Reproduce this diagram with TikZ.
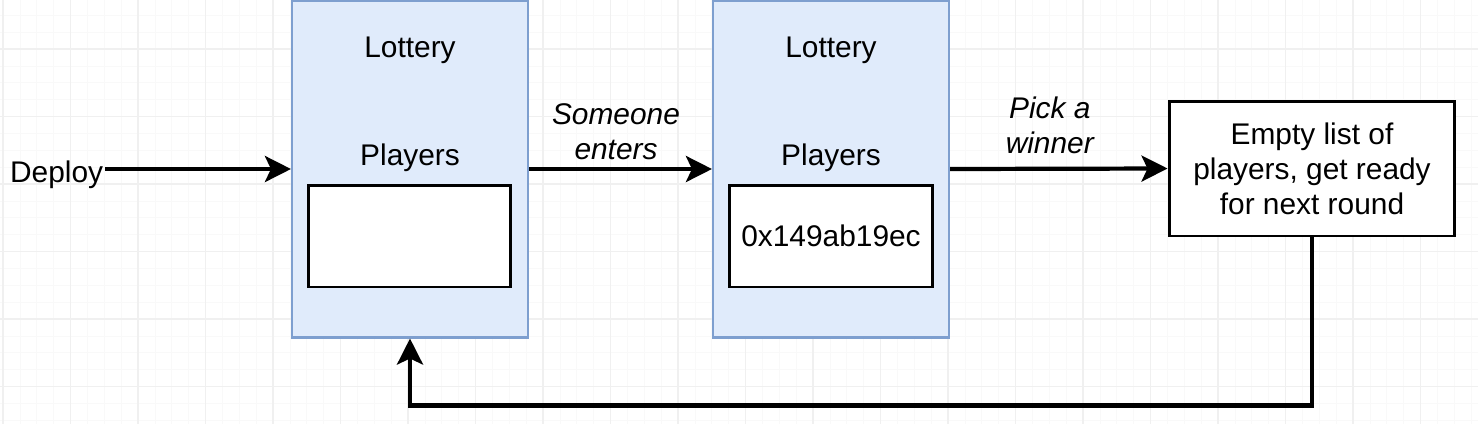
\documentclass[tikz,border=0pt]{standalone}
\usepackage{fontspec}
\setmainfont{Liberation Sans}
\usetikzlibrary{arrows.meta,positioning}
\definecolor{lotfill}{HTML}{E0EBFB}
\definecolor{lotline}{HTML}{7E9FCF}
\definecolor{gridmajor}{HTML}{F0F0F0}
\definecolor{gridminor}{HTML}{F9F9F9}
\tikzset{
  lottery/.style={draw=lotline,fill=lotfill,line width=1.2pt,minimum width=4.72cm,minimum height=6.74cm},
  playerlist/.style={draw,fill=white,line width=1.7pt,minimum width=4.06cm,minimum height=2.04cm},
  resetbox/.style={draw,fill=white,line width=1.7pt,minimum width=5.72cm,minimum height=2.7cm,align=center,inner sep=0pt},
  flow/.style={line width=2.4pt,-{Stealth[length=0.52cm,width=0.52cm,inset=0.12cm]}},
  label/.style={font=\fontsize{17pt}{20pt}\selectfont\itshape,align=center,inner sep=0pt}
}

\begin{document}
\begin{tikzpicture}[x=0.02cm,y=-0.02cm,font=\fontsize{17pt}{20pt}\selectfont]
\useasboundingbox (0,0) rectangle (1478,424);
\fill[white] (0,0) rectangle (1478,424);
\foreach \i in {0,...,88} \draw[gridminor,line width=0.4pt] ({3+16.875*\i},0) -- ({3+16.875*\i},424);
\foreach \j in {0,...,26} \draw[gridminor,line width=0.4pt] (0,{-18.5+16.875*\j}) -- (1478,{-18.5+16.875*\j});
\foreach \i in {0,...,22} \draw[gridmajor,line width=0.6pt] ({3+67.5*\i},0) -- ({3+67.5*\i},424);
\foreach \j in {0,...,7} \draw[gridmajor,line width=0.6pt] (0,{-18.5+67.5*\j}) -- (1478,{-18.5+67.5*\j});

\node[lottery] (lot1) at (410,169) {};
\node[lottery] (lot2) at (831,169) {};
\node[anchor=base] (title1) at (410,57) {Lottery};
\node[anchor=base] (title2) at (831,57) {Lottery};
\node[anchor=base] (players1) at (410,165) {Players};
\node[anchor=base] (players2) at (831,165) {Players};
\node[playerlist] (list1) at (409.5,236) {};
\node[playerlist] (list2) at (831,236) {0x149ab19ec};
\node[resetbox] (reset) at (1312,168.5) {Empty list of\\players, get ready\\for next round};
\node[anchor=base west,inner sep=1pt] (deploy) at (8,182) {Deploy};

\draw[flow] (deploy.east |- lot1.west) -- (lot1.west);
\draw[flow] (lot1.east) -- node[label,above=4pt,xshift=-0.09cm] {Someone\\enters} (lot2.west);
\draw[flow] (lot2.east) -- node[label,above=7.5pt,xshift=-0.18cm] {Pick a\\winner} (reset.west);
\draw[flow] (reset.south) -- ++(0,168) -| (lot1.south);
\end{tikzpicture}
\end{document}
